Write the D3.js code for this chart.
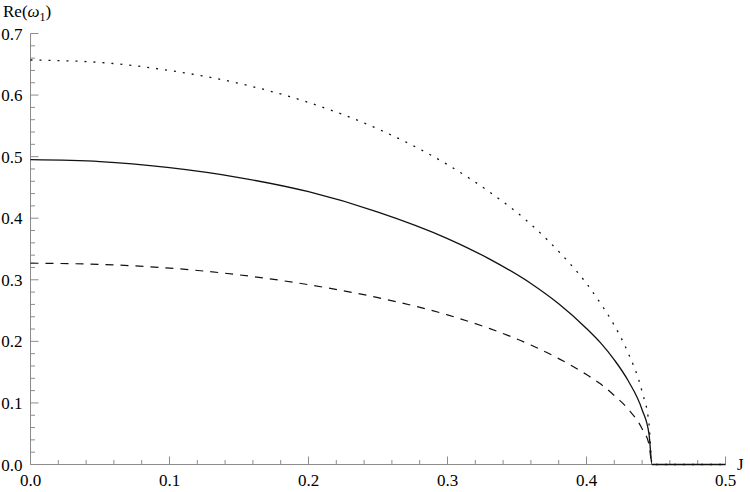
<!DOCTYPE html>
<html>
<head>
<meta charset="utf-8">
<script src="https://cdn.jsdelivr.net/npm/d3@7"></script>
<style>
  body { margin: 0; background: #fff; }
  svg { display: block; }
  svg text { font-family: 'Liberation Serif', 'Times New Roman', Times, serif; font-size: 17px; fill: #000; }
</style>
</head>
<body>
<svg id="chart" width="750" height="492"></svg>
<script>
const jValues = [0, 0.05, 0.1, 0.15, 0.2, 0.25, 0.3, 0.33, 0.36, 0.38, 0.40, 0.41, 0.42, 0.43, 0.44, 0.445, 0.4472, 0.5];

// Re(omega_1) for the three curves
const solidValues  = [0.495, 0.492, 0.482, 0.466, 0.443, 0.410, 0.367, 0.334, 0.294, 0.261, 0.221, 0.198, 0.170, 0.136, 0.089, 0.049, 0, 0];
const dottedValues = [0.657, 0.653, 0.640, 0.619, 0.588, 0.545, 0.487, 0.443, 0.390, 0.346, 0.294, 0.262, 0.226, 0.181, 0.118, 0.065, 0, 0];
const dashedValues = [0.327, 0.325, 0.319, 0.308, 0.292, 0.271, 0.243, 0.221, 0.194, 0.172, 0.146, 0.131, 0.112, 0.090, 0.058, 0.032, 0, 0];

const xTicks = [0, 0.1, 0.2, 0.3, 0.4, 0.5];
const yTicks = [0, 0.1, 0.2, 0.3, 0.4, 0.5, 0.6, 0.7];

const svg = d3.select("#chart");
const axisColor = "#8c8c8c";

const x = d3.scaleLinear().domain([0, 0.5]).range([30.5, 725.5]);
const y = d3.scaleLinear().domain([0, 0.7]).range([464.5, 33.5]);

// minor ticks every 0.02
const xMinor = d3.range(0, 0.5001, 0.02).filter(v => Math.abs(v * 10 - Math.round(v * 10)) > 1e-6);
const yMinor = d3.range(0, 0.7001, 0.02).filter(v => Math.abs(v * 10 - Math.round(v * 10)) > 1e-6);

// X Axis (ticks pointing up)
const gx = svg.append("g").attr("transform", `translate(0,${y(0)})`);
gx.append("line").attr("x1", x(0)).attr("x2", x(0.5)).attr("stroke", axisColor);
gx.selectAll(".major").data(xTicks).enter().append("line")
  .attr("x1", d => x(d)).attr("x2", d => x(d))
  .attr("y1", 0).attr("y2", -8)
  .attr("stroke", axisColor);
gx.selectAll(".minor").data(xMinor).enter().append("line")
  .attr("x1", d => x(d)).attr("x2", d => x(d))
  .attr("y1", 0).attr("y2", -4.5)
  .attr("stroke", axisColor);
gx.selectAll(".lbl").data(xTicks).enter().append("text")
  .attr("x", d => x(d)).attr("y", 21)
  .attr("text-anchor", "middle")
  .text(d => d3.format(".1f")(d));

// Y Axis (ticks pointing right)
const gy = svg.append("g").attr("transform", `translate(${x(0)},0)`);
gy.append("line").attr("y1", y(0)).attr("y2", y(0.7)).attr("stroke", axisColor);
gy.selectAll(".major").data(yTicks).enter().append("line")
  .attr("y1", d => y(d)).attr("y2", d => y(d))
  .attr("x1", 0).attr("x2", 8)
  .attr("stroke", axisColor);
gy.selectAll(".minor").data(yMinor).enter().append("line")
  .attr("y1", d => y(d)).attr("y2", d => y(d))
  .attr("x1", 0).attr("x2", 4.5)
  .attr("stroke", axisColor);
gy.selectAll(".lbl").data(yTicks).enter().append("text")
  .attr("x", -8).attr("y", d => y(d) + 6)
  .attr("text-anchor", "end")
  .text(d => d3.format(".1f")(d));

// axis labels
const yl = svg.append("text").attr("x", 3).attr("y", 17);
yl.append("tspan").text("Re(");
yl.append("tspan").attr("font-style", "italic").text("ω");
yl.append("tspan").style("font-size", "12px").attr("dy", 4).text("1");
yl.append("tspan").attr("dy", -4).text(")");

svg.append("text").attr("x", 737).attr("y", 470).text("J");

// Curves
const line = d3.line()
  .x((d, i) => x(jValues[i]))
  .y(d => y(d))
  .curve(d3.curveMonotoneX);

const series = [
  { values: dashedValues, dash: "8,7", width: 1.2 },
  { values: dottedValues, dash: "2,7", width: 1.3 },
  { values: solidValues, dash: null, width: 1.3 }
];

svg.selectAll(".curve").data(series).enter().append("path")
  .attr("class", "curve")
  .attr("d", d => line(d.values))
  .attr("fill", "none")
  .attr("stroke", "#111")
  .attr("stroke-width", d => d.width)
  .attr("stroke-dasharray", d => d.dash);
</script>
</body>
</html>
